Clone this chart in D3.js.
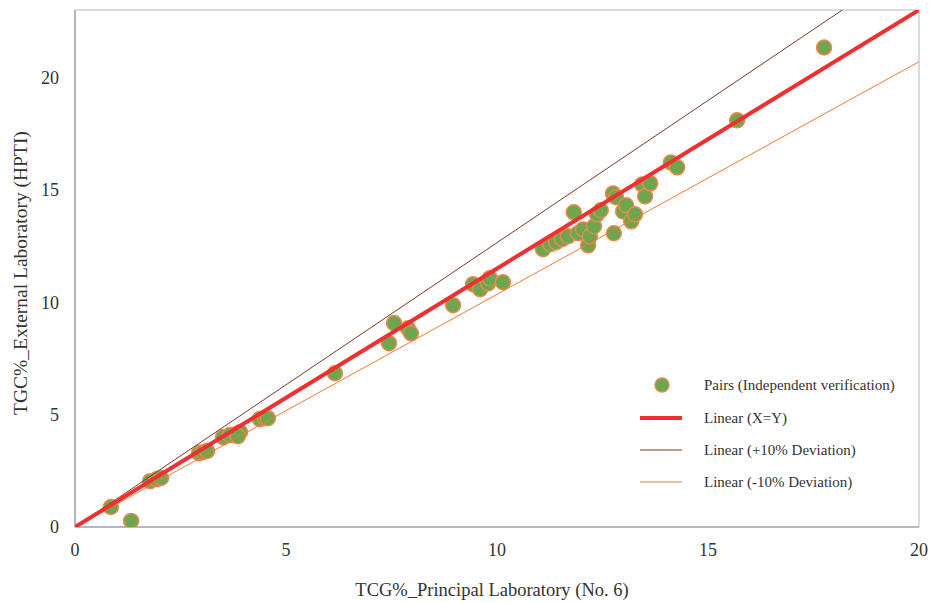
<!DOCTYPE html>
<html><head><meta charset="utf-8">
<script src="https://cdn.jsdelivr.net/npm/d3@7"></script>
</head><body style="margin:0;background:#fff">
<svg id="c" width="930" height="603" font-family="Liberation Serif"></svg>
<script>
// Data: principal lab (x) vs external lab (y)
const xVals = [0.85,1.33,1.78,1.94,2.04,2.94,3.03,3.13,3.51,3.67,3.82,3.91,3.86,4.38,4.50,4.57,6.16,7.44,7.56,7.89,7.96,8.96,9.43,9.60,9.79,9.83,10.14,11.09,11.26,11.40,11.54,11.68,11.82,11.92,12.04,12.16,12.20,12.30,12.37,12.46,12.75,12.82,12.99,13.06,13.18,13.27,13.44,13.51,13.63,12.77,14.12,14.27,15.69,17.75];
const yVals = [0.89,0.27,2.04,2.13,2.18,3.29,3.33,3.38,4.00,4.09,4.13,4.22,4.04,4.80,4.84,4.84,6.84,8.18,9.07,8.84,8.62,9.87,10.80,10.58,10.84,11.07,10.89,12.36,12.58,12.67,12.80,12.93,14.00,13.07,13.24,12.53,12.93,13.38,13.91,14.09,14.84,14.67,14.04,14.31,13.60,13.91,15.24,14.71,15.29,13.07,16.22,16.00,18.09,21.33];
const xTicks = [0,5,10,15,20];
const yTicks = [0,5,10,15,20];
const lineNames = ["Linear (X=Y)","Linear (+10% Deviation)","Linear (-10% Deviation)"];
const lineSlopes = [1.15,1.265,1.035];
const pointName = "Pairs (Independent verification)";

const svg = d3.select("#c");
const L=75,R=919,T=10,B=527;
const x = d3.scaleLinear().domain([0,20]).range([L,R]);
const y = d3.scaleLinear().domain([0,23]).range([B,T]);
const txt = "#333";
function serif(sel, size){
  sel.style("font-family", `"Liberation Serif"`).style("font-size", size+"px").attr("fill", txt);
  return sel;
}

svg.append("clipPath").attr("id","clip").append("rect").attr("x",L).attr("y",T).attr("width",R-L).attr("height",B-T);

// frame
svg.append("rect").attr("x",L).attr("y",T).attr("width",R-L).attr("height",B-T)
  .attr("fill","none").attr("stroke","#b4b7c0").attr("stroke-width",1);
svg.append("line").attr("x1",L).attr("x2",L).attr("y1",T).attr("y2",B).attr("stroke","#aaaaaa").attr("stroke-width",1.5);
svg.append("line").attr("x1",L).attr("x2",R).attr("y1",B).attr("y2",B).attr("stroke","#a8acb8").attr("stroke-width",1.5);

// tick labels, positioned by the scales
svg.append("g").selectAll("text").data(xTicks).enter().append("text")
  .attr("x",d=>x(d)).attr("y",B+29).attr("text-anchor","middle").text(d=>d)
  .call(s=>serif(s,18));
svg.append("g").selectAll("text").data(yTicks).enter().append("text")
  .attr("x",L-16).attr("y",d=>y(d)).attr("dy","0.35em").attr("text-anchor","end").text(d=>d)
  .call(s=>serif(s,18));

serif(svg.append("text").attr("x",(L+R)/2-5).attr("y",596).attr("text-anchor","middle")
  .text("TCG%_Principal Laboratory (No. 6)"), 18.5);
serif(svg.append("text").attr("transform",`translate(27,273) rotate(-90)`).attr("text-anchor","middle")
  .text("TGC%_External Laboratory  (HPTI)"), 19.5);

const pts = xVals.map((v,i)=>({x:v,y:yVals[i]}));
const plot = svg.append("g").attr("clip-path","url(#clip)");
plot.selectAll("circle").data(pts).enter().append("circle")
  .attr("cx",d=>x(d.x)).attr("cy",d=>y(d.y)).attr("r",7.5)
  .attr("fill","#6ea64f").attr("stroke","#e88a4c").attr("stroke-width",1.5);

const lineColors = ["#ee3030","#7a3b25","#ec7a36"];
const lineWidths = [4,1,1];
const order = [1,2,0];
order.forEach(i=>{
  const k = lineSlopes[i];
  plot.append("line").attr("x1",x(0)).attr("y1",y(0)).attr("x2",x(20)).attr("y2",y(20*k))
    .attr("stroke",lineColors[i]).attr("stroke-width",lineWidths[i]);
});

// legend
const lg = svg.append("g");
const rows = [385,418,450,482];
lg.append("circle").attr("cx",662).attr("cy",rows[0]).attr("r",7).attr("fill","#6ea64f").attr("stroke","#e88a4c").attr("stroke-width",1.5);
lineNames.forEach((n,i)=>{
  lg.append("line").attr("x1",640).attr("x2",682).attr("y1",rows[i+1]).attr("y2",rows[i+1])
    .attr("stroke",lineColors[i]).attr("stroke-width",lineWidths[i]);
});
[pointName,...lineNames].forEach((n,i)=>{
  serif(lg.append("text").attr("x",704).attr("y",rows[i]).attr("dy","0.35em").text(n), 15);
});
</script>
</body></html>
